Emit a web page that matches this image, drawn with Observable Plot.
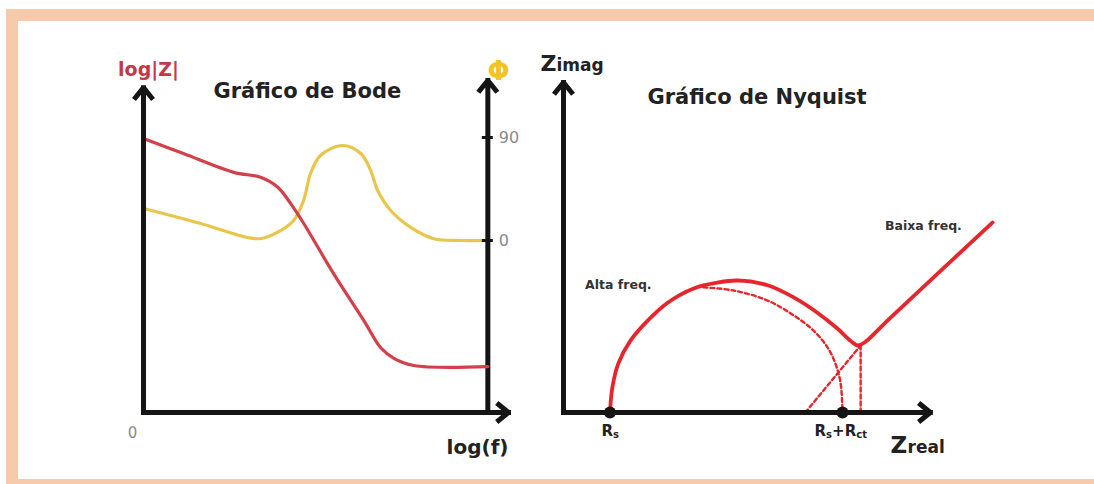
<!DOCTYPE html>
<html>
<head>
<meta charset="utf-8">
<script src="https://cdn.jsdelivr.net/npm/d3@7"></script>
<script src="https://cdn.jsdelivr.net/npm/@observablehq/plot@0.6"></script>
<style>
  html, body { margin: 0; padding: 0; background: #fff; overflow: hidden; }
  #page { position: relative; width: 1094px; height: 484px; background: #fff; overflow: hidden; }
  .band { position: absolute; background: #f7caac; }
  #inner { position: absolute; left: 18px; top: 21px; right: 0; height: 458px; background: #fff; }
  #stage { position: absolute; left: 0; top: 0; width: 1094px; height: 484px; }
  #stage svg { position: absolute; left: 0; top: 0; }
</style>
</head>
<body>
<div id="page">
  <div class="band" style="left:6px; top:9px; right:0; height:12px;"></div>
  <div class="band" style="left:6px; top:9px; width:12px; bottom:0;"></div>
  <div class="band" style="left:6px; top:479px; right:0; bottom:0;"></div>
  <div id="inner"></div>
  <div id="stage"></div>
</div>
<script>
// ---- Bode diagram: log(f) in decades, log|Z| in arbitrary units, phase in degrees
const bodeLogF  = [0, 1.16, 2.62, 3.40, 3.90, 4.27, 4.65, 5.52, 6.40, 6.89, 7.27, 7.85, 10];
const bodeLogZ  = [4.95, 4.68, 4.34, 4.25, 4.07, 3.78, 3.42, 2.51, 1.66, 1.17, 0.98, 0.85, 0.83];
const phaseLogF = [0, 1.66, 3.02, 3.40, 3.98, 4.36, 4.65, 4.85, 5.14, 5.78, 6.31, 6.60, 6.80, 7.18, 7.76, 8.43, 9.2, 10];
const phaseDeg  = [28, 14.9, 2.6, 1.7, 8.7, 17.5, 35, 58.5, 74.3, 83, 76, 61, 43.7, 26.2, 11.4, 1.5, 0, 0];
const phaseTicks = [0, 90];

// ---- Nyquist diagram: measured arc + Warburg tail, fitted semicircle, construction lines
const Rs = 1, Rct = 5;
const arcReal = [1.0, 1.05, 1.18, 1.44, 1.81, 2.24, 2.80, 3.31, 3.74, 4.39, 4.95, 5.46, 5.89, 6.17, 6.33, 6.48, 7.0, 9.23];
const arcImag = [0, 0.47, 0.93, 1.36, 1.74, 2.08, 2.35, 2.46, 2.50, 2.41, 2.18, 1.89, 1.59, 1.36, 1.27, 1.33, 1.77, 3.60];
const fitReal = [3.01, 3.66, 4.39, 4.95, 5.38, 5.68, 5.85, 5.96, 6.0];
const fitImag = [2.37, 2.31, 2.12, 1.84, 1.55, 1.23, 0.92, 0.55, 0];
const tailReal = [5.2, 6.39];
const tailImag = [0, 1.27];
const kneeReal = [6.39, 6.39];
const kneeImag = [1.27, 0];

const W = 1094, H = 484;
const ink = "#151515";
const bodeRed = "#d2404a";
const bodeYellow = "#e8c64c";
const nyqRed = "#e5262c";
const font = "DejaVu Sans";

const zTable = bodeLogF.map((f, i) => ({f, v: bodeLogZ[i]}));
const pTable = phaseLogF.map((f, i) => ({f, v: phaseDeg[i]}));
const arc = arcReal.map((x, i) => ({x, y: arcImag[i]}));
const fit = fitReal.map((x, i) => ({x, y: fitImag[i]}));
const tail = tailReal.map((x, i) => ({x, y: tailImag[i]}));
const knee = kneeReal.map((x, i) => ({x, y: kneeImag[i]}));

const axisStyle = {stroke: ink, strokeWidth: 5, headLength: 3.8, headAngle: 78, strokeLinecap: "square"};
const bodeFrame = {width: W, height: H, marginLeft: 143, marginRight: W - 508, marginTop: 80, marginBottom: H - 412,
  style: {background: "transparent", overflow: "visible"}};
const fMax = 10.6, fAxis = 10;

// log|Z| layer with left and bottom axes
const bodeZ = Plot.plot({
  ...bodeFrame,
  x: {domain: [0, fMax], axis: null},
  y: {domain: [0, 6], axis: null},
  marks: [
    Plot.line(zTable, {x: "f", y: "v", curve: "catmull-rom", stroke: bodeRed, strokeWidth: 3.2}),
    Plot.arrow([{x1: 0, y1: 0, x2: 0, y2: 5.87}], {x1: "x1", y1: "y1", x2: "x2", y2: "y2", ...axisStyle}),
    Plot.arrow([{x1: 0, y1: 0, x2: fMax, y2: 0}], {x1: "x1", y1: "y1", x2: "x2", y2: "y2", ...axisStyle}),
    Plot.text(["Gráfico de Bode"], {frameAnchor: "top-left", dx: 70, dy: 17, textAnchor: "start", lineAnchor: "bottom",
      fontFamily: font, fontWeight: "bold", fontSize: 21, fill: "#222"}),
    Plot.text(["log|Z|"], {frameAnchor: "top-left", dx: 5, dy: -5, textAnchor: "middle", lineAnchor: "bottom",
      fontFamily: font, fontWeight: "bold", fontSize: 19, fill: "#c23a48"}),
    Plot.text(["log(f)"], {frameAnchor: "bottom-right", dx: 0, dy: 41, textAnchor: "end", lineAnchor: "bottom",
      fontFamily: font, fontWeight: "bold", fontSize: 20, fill: "#222"}),
    Plot.text(["0"], {frameAnchor: "bottom-left", dx: -11, dy: 25, textAnchor: "middle", lineAnchor: "bottom",
      fontFamily: font, fontSize: 15, fill: "#8a8a8a"})
  ]
});

// phase layer with its own right-hand axis
const bodePhase = Plot.plot({
  ...bodeFrame,
  x: {domain: [0, fMax], axis: null},
  y: {domain: [-150.3, 139.8], axis: null},
  marks: [
    Plot.line(pTable, {x: "f", y: "v", curve: "catmull-rom", stroke: bodeYellow, strokeWidth: 3.2}),
    Plot.arrow([{x1: fAxis, y1: -150.3, x2: fAxis, y2: 139.8}], {x1: "x1", y1: "y1", x2: "x2", y2: "y2", ...axisStyle}),
    Plot.ruleY(phaseTicks, {y: d => d, x1: fAxis - 0.16, x2: fAxis + 0.16, stroke: ink, strokeWidth: 3}),
    Plot.text(phaseTicks, {x: fAxis, y: d => d, text: d => String(d), dx: 11, textAnchor: "start", lineAnchor: "middle",
      fontFamily: font, fontSize: 16, fill: "#8a8a8a"}),
    Plot.text(["Φ"], {frameAnchor: "top-right", dx: -10, dy: -1, textAnchor: "middle", lineAnchor: "bottom",
      fontFamily: font, fontWeight: "bold", fontSize: 26, fill: "#f0c522"})
  ]
});

// Nyquist diagram
const nyqTextStyle = {fontFamily: font, fontWeight: "bold", fill: "#222"};
const dashStyle = {stroke: nyqRed, strokeWidth: 2.4, strokeDasharray: "4,3"};
const nyquist = Plot.plot({
  width: W, height: H, marginLeft: 563, marginRight: W - 1028, marginTop: 82, marginBottom: H - 412,
  style: {background: "transparent", overflow: "visible"},
  x: {domain: [0, 10], axis: null},
  y: {domain: [0, 6.25], axis: null},
  marks: [
    Plot.line(fit, {x: "x", y: "y", curve: "catmull-rom", ...dashStyle}),
    Plot.line(tail, {x: "x", y: "y", ...dashStyle}),
    Plot.line(knee, {x: "x", y: "y", ...dashStyle}),
    Plot.line(arc, {x: "x", y: "y", curve: "catmull-rom", stroke: nyqRed, strokeWidth: 3.8}),
    Plot.arrow([{x1: 0, y1: 0, x2: 0, y2: 6.25}], {x1: "x1", y1: "y1", x2: "x2", y2: "y2", ...axisStyle}),
    Plot.arrow([{x1: 0, y1: 0, x2: 7.89, y2: 0}], {x1: "x1", y1: "y1", x2: "x2", y2: "y2", ...axisStyle}),
    Plot.dot([Rs, Rs + Rct], {x: d => d, y: 0, r: 6, fill: ink}),
    Plot.text(["Gráfico de Nyquist"], {frameAnchor: "top-left", dx: 84, dy: 21, textAnchor: "start", lineAnchor: "bottom",
      ...nyqTextStyle, fontSize: 21}),
    Plot.text(["Z"], {frameAnchor: "top-left", dx: -23, dy: -12, textAnchor: "start", lineAnchor: "bottom", ...nyqTextStyle, fontSize: 22}),
    Plot.text(["imag"], {frameAnchor: "top-left", dx: -7, dy: -12, textAnchor: "start", lineAnchor: "bottom", ...nyqTextStyle, fontSize: 17}),
    Plot.text(["Z"], {frameAnchor: "bottom-left", dx: 327, dy: 40, textAnchor: "start", lineAnchor: "bottom", ...nyqTextStyle, fontSize: 23}),
    Plot.text(["real"], {frameAnchor: "bottom-left", dx: 344, dy: 40, textAnchor: "start", lineAnchor: "bottom", ...nyqTextStyle, fontSize: 17}),
    Plot.text(["Alta freq."], {x: 1.18, y: 2.41, textAnchor: "middle", lineAnchor: "middle", ...nyqTextStyle, fill: "#333", fontSize: 12.5}),
    Plot.text(["Baixa freq."], {x: 7.74, y: 3.54, textAnchor: "middle", lineAnchor: "middle", ...nyqTextStyle, fill: "#333", fontSize: 12.5}),
    // R_s under the first intercept
    Plot.text(["R"], {x: Rs, y: 0, dx: 3, dy: 23, textAnchor: "end", lineAnchor: "bottom", ...nyqTextStyle, fontSize: 15}),
    Plot.text(["s"], {x: Rs, y: 0, dx: 3, dy: 25, textAnchor: "start", lineAnchor: "bottom", ...nyqTextStyle, fontSize: 10}),
    // R_s + R_ct under the second intercept
    Plot.text(["R"], {x: Rs + Rct, y: 0, dx: -28, dy: 23, textAnchor: "start", lineAnchor: "bottom", ...nyqTextStyle, fontSize: 15}),
    Plot.text(["s"], {x: Rs + Rct, y: 0, dx: -16.4, dy: 25, textAnchor: "start", lineAnchor: "bottom", ...nyqTextStyle, fontSize: 10}),
    Plot.text(["+R"], {x: Rs + Rct, y: 0, dx: -10.4, dy: 23, textAnchor: "start", lineAnchor: "bottom", ...nyqTextStyle, fontSize: 15}),
    Plot.text(["ct"], {x: Rs + Rct, y: 0, dx: 13.8, dy: 25, textAnchor: "start", lineAnchor: "bottom", ...nyqTextStyle, fontSize: 10})
  ]
});

const stage = document.getElementById("stage");
stage.append(bodePhase, bodeZ, nyquist);
</script>
</body>
</html>
